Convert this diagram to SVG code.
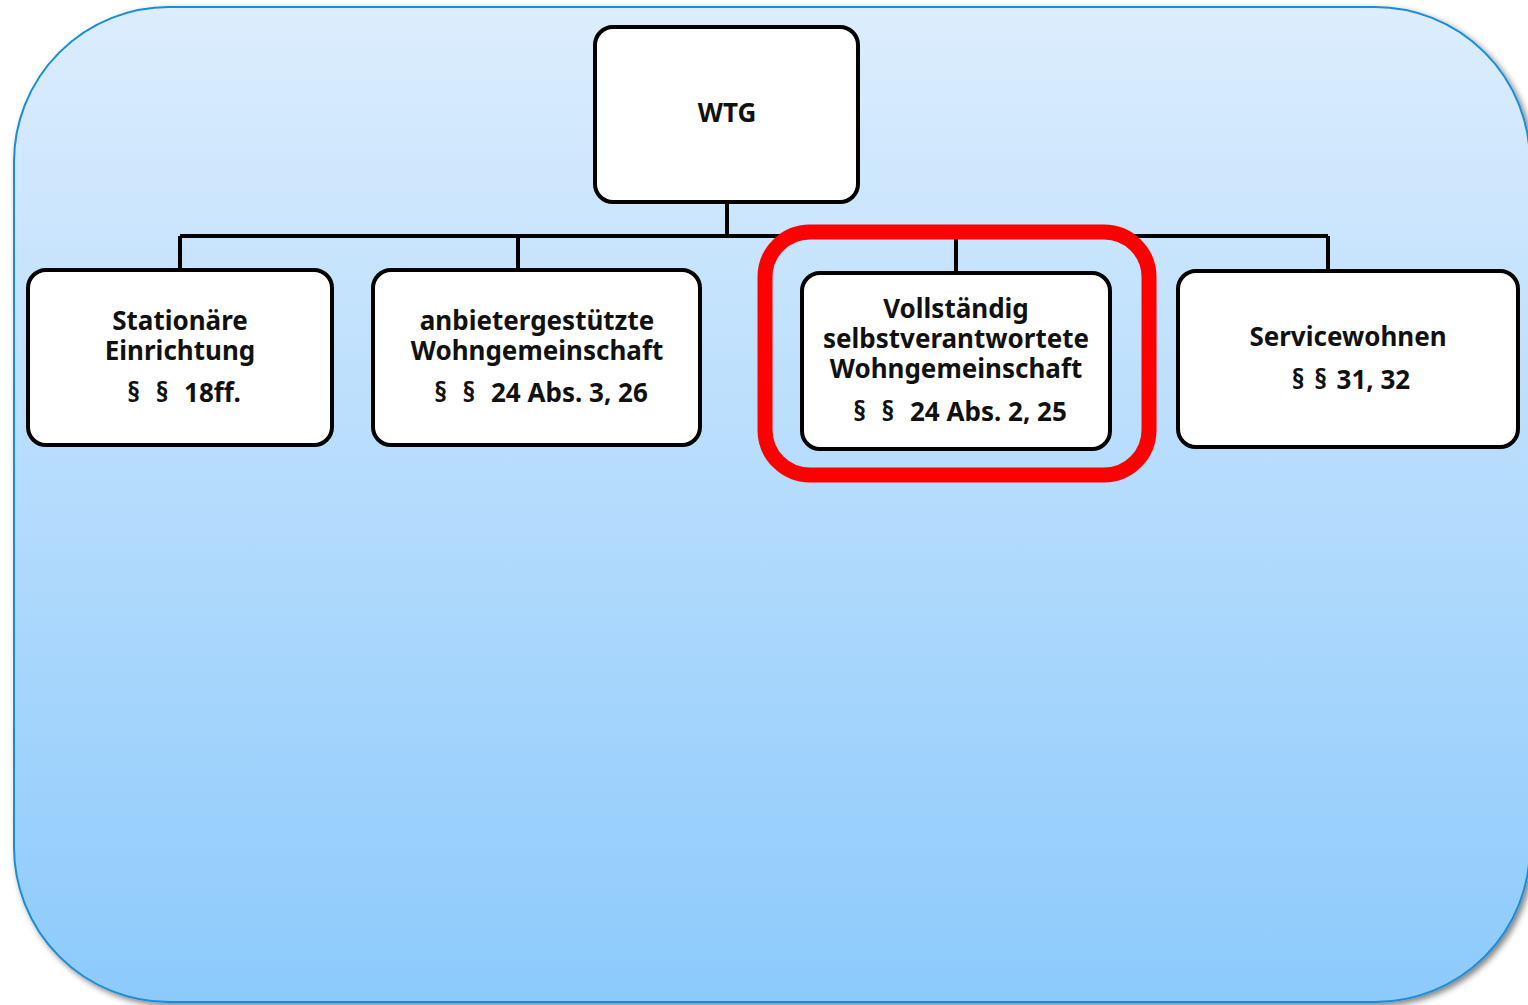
<svg xmlns="http://www.w3.org/2000/svg" width="1528" height="1005" viewBox="0 0 1528 1005">
<defs>
<linearGradient id="bg" x1="0" y1="0" x2="0" y2="1">
<stop offset="0" stop-color="#dcedfd"/>
<stop offset="1" stop-color="#8ccafc"/>
</linearGradient>
<filter id="sh" x="-5%" y="-5%" width="110%" height="110%">
<feGaussianBlur in="SourceAlpha" stdDeviation="3"/>
<feOffset dx="3" dy="3" result="b"/>
<feComponentTransfer><feFuncA type="linear" slope="0.5"/></feComponentTransfer>
<feMerge><feMergeNode/><feMergeNode in="SourceGraphic"/></feMerge>
</filter>
</defs>
<style>
.box{fill:#ffffff;stroke:#000000;stroke-width:4}
.ln{fill:none;stroke:#000000;stroke-width:4}
.t{font-family:"Noto Sans","Open Sans",sans-serif;font-weight:bold;font-size:26px;fill:#111111;text-anchor:middle}
.g{word-spacing:9px}
.g2{word-spacing:3px}
</style>
<g id="background">
<rect x="14" y="7" width="1516" height="995" rx="155" ry="155" fill="url(#bg)" stroke="#1a8cd8" stroke-width="2" filter="url(#sh)"/>
</g>
<g id="connectors">
<path class="ln" d="M727 202 V236 M180 236 H1328 M180 236 V270 M518 236 V270 M956 236 V273 M1328 236 V271"/>
</g>
<g id="wtg">
<rect class="box" x="595" y="27" width="263" height="175" rx="18"/>
<text class="t" x="727" y="122">WTG</text>
</g>
<g id="stationaer">
<rect class="box" x="28" y="270" width="304" height="175" rx="18"/>
<text class="t" x="180" y="330">Stationäre</text>
<text class="t" x="180" y="360">Einrichtung</text>
<text class="t" x="184" y="402"><tspan class="g">§ § </tspan>18ff.</text>
</g>
<g id="anbieter">
<rect class="box" x="373" y="270" width="327" height="175" rx="18"/>
<text class="t" x="537" y="330">anbietergestützte</text>
<text class="t" x="537" y="360">Wohngemeinschaft</text>
<text class="t" x="541" y="402"><tspan class="g">§ § </tspan>24 Abs. 3, 26</text>
</g>
<g id="selbst">
<rect class="box" x="802" y="273" width="308" height="176" rx="18"/>
<text class="t" x="956" y="318">Vollständig</text>
<text class="t" x="956" y="348">selbstverantwortete</text>
<text class="t" x="956" y="378">Wohngemeinschaft</text>
<text class="t" x="960" y="421"><tspan class="g">§ § </tspan>24 Abs. 2, 25</text>
</g>
<g id="highlight">
<rect x="765" y="232" width="384" height="243" rx="45" fill="none" stroke="#ff0000" stroke-width="15"/>
</g>
<g id="service">
<rect class="box" x="1178" y="271" width="340" height="176" rx="18"/>
<text class="t" x="1348" y="346">Servicewohnen</text>
<text class="t" x="1351" y="389"><tspan class="g2">§ § </tspan>31, 32</text>
</g>
</svg>
